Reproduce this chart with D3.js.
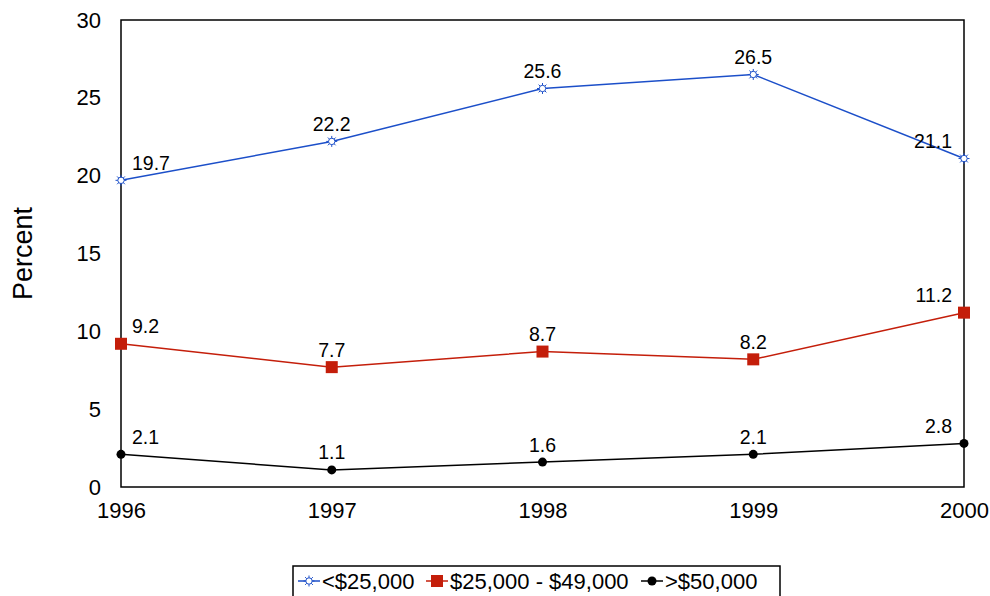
<!DOCTYPE html>
<html>
<head>
<meta charset="utf-8">
<script src="https://cdn.jsdelivr.net/npm/d3@7/dist/d3.min.js"></script>
<style>
  html, body { margin: 0; padding: 0; background: #fff; }
  svg { display: block; font-family: Arial, "Liberation Sans", sans-serif; }
</style>
</head>
<body>
<svg id="chart" width="990" height="596"></svg>
<script>
// Share of respondents (percent) by household income, 1996–2000
const years = [1996, 1997, 1998, 1999, 2000];
const under25k = [19.7, 22.2, 25.6, 26.5, 21.1];
const mid25to49k = [9.2, 7.7, 8.7, 8.2, 11.2];
const over50k = [2.1, 1.1, 1.6, 2.1, 2.8];
const yTicks = [0, 5, 10, 15, 20, 25, 30];
const seriesNames = ["<$25,000", "$25,000 - $49,000", ">$50,000"];

const series = [
  { name: seriesNames[0], values: under25k, color: "#1c4fc9", marker: "star" },
  { name: seriesNames[1], values: mid25to49k, color: "#c41e0a", marker: "square" },
  { name: seriesNames[2], values: over50k, color: "#000000", marker: "dot" }
];

const FONT = "Arial, 'Liberation Sans', sans-serif";
const svg = d3.select("#chart");
const m = { left: 121, right: 964, top: 20, bottom: 487 };

const x = d3.scalePoint().domain(years).range([m.left, m.right]);
const y = d3.scaleLinear().domain([0, 30]).range([m.bottom, m.top]);

// plot frame
svg.append("rect")
  .attr("x", m.left).attr("y", m.top)
  .attr("width", m.right - m.left).attr("height", m.bottom - m.top)
  .attr("fill", "none").attr("stroke", "#000").attr("stroke-width", 1.5);

// y axis labels
const yAxis = d3.axisLeft(y).tickValues(yTicks).tickSize(0).tickPadding(20);
svg.append("g").attr("transform", `translate(${m.left},0)`).call(yAxis)
  .call(g => g.select(".domain").remove())
  .selectAll("text").attr("font-size", 22).attr("font-family", FONT).attr("fill", "#000");

// x axis labels
const xAxis = d3.axisBottom(x).tickSize(0).tickPadding(15);
svg.append("g").attr("transform", `translate(0,${m.bottom})`).call(xAxis)
  .call(g => g.select(".domain").remove())
  .selectAll("text").attr("font-size", 22).attr("font-family", FONT).attr("fill", "#000");

// y title
svg.append("text")
  .attr("transform", `translate(32,${(m.top + m.bottom) / 2}) rotate(-90)`)
  .attr("text-anchor", "middle")
  .attr("font-size", 27)
  .text("Percent");

function drawMarker(g, type, color, cx, cy) {
  if (type === "star") {
    const r = 5.5;
    for (let i = 0; i < 8; i++) {
      const a = i * Math.PI / 4;
      g.append("line")
        .attr("x1", cx).attr("y1", cy)
        .attr("x2", cx + r * Math.cos(a)).attr("y2", cy + r * Math.sin(a))
        .attr("stroke", color).attr("stroke-width", 1);
    }
    g.append("circle").attr("cx", cx).attr("cy", cy).attr("r", 3.2)
      .attr("fill", "#fff").attr("stroke", color).attr("stroke-width", 1);
  } else if (type === "square") {
    g.append("rect").attr("x", cx - 6).attr("y", cy - 6).attr("width", 12).attr("height", 12)
      .attr("fill", color);
  } else {
    g.append("circle").attr("cx", cx).attr("cy", cy).attr("r", 4.5).attr("fill", color);
  }
}

const line = d3.line().x((d, i) => x(years[i])).y(d => y(d));

series.forEach(s => {
  const g = svg.append("g");
  g.append("path").datum(s.values).attr("d", line)
    .attr("fill", "none").attr("stroke", s.color).attr("stroke-width", 1.5);
  s.values.forEach((v, i) => drawMarker(g, s.marker, s.color, x(years[i]), y(v)));
  s.values.forEach((v, i) => {
    const last = i === years.length - 1, first = i === 0;
    g.append("text")
      .attr("x", x(years[i]) + (first ? 11 : last ? -12 : 0))
      .attr("y", y(v) - 10.5)
      .attr("text-anchor", first ? "start" : last ? "end" : "middle")
      .attr("font-size", 19.5)
      .attr("fill", "#000")
      .text(v.toFixed(1));
  });
});

// legend
const lg = svg.append("g");
lg.append("rect").attr("x", 293).attr("y", 566).attr("width", 487).attr("height", 40)
  .attr("fill", "#fff").attr("stroke", "#000").attr("stroke-width", 1.5);
const legendPos = [298, 426, 641];
series.forEach((s, i) => {
  const lx = legendPos[i], ly = 581;
  lg.append("line").attr("x1", lx).attr("x2", lx + 22).attr("y1", ly).attr("y2", ly)
    .attr("stroke", s.color).attr("stroke-width", 1.5);
  drawMarker(lg, s.marker, s.color, lx + 11, ly);
  lg.append("text").attr("x", lx + 24).attr("y", ly + 8)
    .attr("font-size", 22).text(s.name);
});
</script>
</body>
</html>
